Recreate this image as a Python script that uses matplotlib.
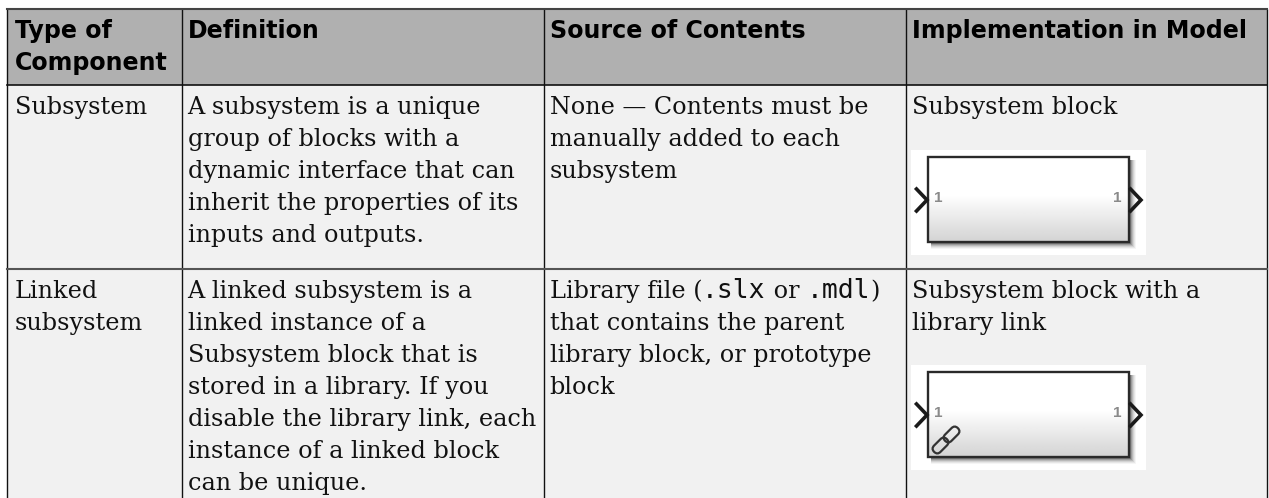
import matplotlib
matplotlib.use("Agg")
import matplotlib.pyplot as plt
from matplotlib.patches import Rectangle, FancyBboxPatch
from matplotlib.transforms import Affine2D
import numpy as np

headers = [["Type of", "Component"], ["Definition"], ["Source of Contents"], ["Implementation in Model"]]
row1 = [["Subsystem"],
        ["A subsystem is a unique", "group of blocks with a", "dynamic interface that can", "inherit the properties of its", "inputs and outputs."],
        ["None \u2014 Contents must be", "manually added to each", "subsystem"],
        ["Subsystem block"]]
row2 = [["Linked", "subsystem"],
        ["A linked subsystem is a", "linked instance of a", "Subsystem block that is", "stored in a library. If you", "disable the library link, each", "instance of a linked block", "can be unique."],
        [[("Library file (", "serif"), (".slx", "mono"), (" or ", "serif"), (".mdl", "mono"), (")", "serif")], "that contains the parent", "library block, or prototype", "block"],
        ["Subsystem block with a", "library link"]]
port_label = "1"

W, H = 1269, 498
X = [6.5, 181.5, 543.5, 905.5, 1266.5]
Y = [8.5, 84.5, 268.5, 520]
PAD = [8.5, 6, 6, 6.5]
FS_BODY = 17.18
FS_HEAD = 17.15
FS_MONO = 19.0
LH = 32
FAM = {"serif": "DejaVu Serif", "mono": "DejaVu Sans Mono"}

fig = plt.figure(figsize=(W/100, H/100), dpi=100, facecolor="white")
ax = fig.add_axes([0, 0, 1, 1])
ax.set_xlim(0, W); ax.set_ylim(H, 0); ax.axis("off")

ax.add_patch(Rectangle((X[0], Y[0]), X[-1]-X[0], Y[1]-Y[0], fc="#b0b0b0", ec="none", zorder=0))
ax.add_patch(Rectangle((X[0], Y[1]), X[-1]-X[0], Y[-1]-Y[1], fc="#f1f1f1", ec="none", zorder=0))
for x in X:
    ax.plot([x, x], [Y[0], H+5], color="#111111", lw=1.0, zorder=1, solid_capstyle="butt")
ax.plot([X[0], X[-1]], [Y[0], Y[0]], color="#444444", lw=1.5, zorder=1)
ax.plot([X[0], X[-1]], [Y[1], Y[1]], color="#111111", lw=1.2, zorder=1)
ax.plot([X[0], X[-1]], [Y[2], Y[2]], color="#555555", lw=1.5, zorder=1)


def draw_cell(col, y0, lines, bold=False):
    x0 = X[col] + PAD[col]
    r = fig.canvas.get_renderer()
    for i, ln in enumerate(lines):
        y = y0 + i*LH
        if isinstance(ln, str):
            ln = [(ln, "sans" if bold else "serif")]
        x = x0
        for s, f in ln:
            fam = "DejaVu Sans" if f == "sans" else FAM[f]
            fs = FS_HEAD if bold else (FS_MONO if f == "mono" else FS_BODY)
            ax.text(x, y, s, family=fam, fontsize=fs, color="black" if bold else "#111111",
                    weight="bold" if bold else "normal", va="baseline", ha="left", zorder=3)
            probe = ax.text(0, 0, s.replace(" ", "\u00a0"), family=fam, fontsize=fs)
            x += probe.get_window_extent(r).width
            probe.remove()


for c, lines in enumerate(headers):
    draw_cell(c, 38, lines, bold=True)
for c, lines in enumerate(row1):
    draw_cell(c, 114, lines)
for c, lines in enumerate(row2):
    draw_cell(c, 298, lines)

grad = np.concatenate([np.ones(38), np.linspace(1, 0.83, 47)]).reshape(-1, 1)


def block(top, link=False):
    ax.add_patch(Rectangle((911, top), 235, 105, fc="white", ec="none", zorder=2))
    bx0, bx1, by0, by1 = 928, 1129, top+7, top+92
    for k, a in zip((6, 5, 4, 3, 2, 1), (0.04, 0.06, 0.08, 0.12, 0.16, 0.22)):
        ax.add_patch(Rectangle((bx0+3, by0+3), bx1-bx0+k-2, by1-by0+k-2, fc="black", alpha=a, ec="none", zorder=2.1))
    ax.imshow(grad, extent=(bx0, bx1, by1, by0), cmap="gray", vmin=0, vmax=1, aspect="auto", zorder=2.2, interpolation="bilinear")
    ax.add_patch(Rectangle((bx0, by0), bx1-bx0, by1-by0, fc="none", ec="#2a2a2a", lw=1.7, zorder=2.3))
    ym = top + 50
    ax.plot([916.5, 927, 916.5], [ym-11, ym, ym+11], color="#1a1a1a", lw=2.6, zorder=2.4, solid_joinstyle="miter")
    ax.plot([1130.5, 1141, 1130.5], [ym-11, ym, ym+11], color="#1a1a1a", lw=2.6, zorder=2.4, solid_joinstyle="miter")
    ly = ym - 2
    for x in (938.5, 1117.5):
        ax.text(x, ly, port_label, family="Liberation Sans", fontsize=11, weight="bold", color="#8a8a8a",
                ha="center", va="center", zorder=2.4)
    if link:
        cx, cy = 946, by1-17
        for dx, dy in ((-5.5, 5.5), (5.5, -5.5)):
            tr = Affine2D().rotate_deg_around(cx+dx, cy+dy, -45) + ax.transData
            p = FancyBboxPatch((cx+dx-9, cy+dy-4.5), 18, 9, boxstyle="round,pad=0,rounding_size=4.5",
                               fc="none", ec="#333333", lw=1.6, zorder=2.5)
            p.set_transform(tr)
            ax.add_patch(p)


block(150)
block(365, link=True)
ax.set_xlim(0, W); ax.set_ylim(H, 0)
fig.savefig("out.png", dpi=100, facecolor="white")
